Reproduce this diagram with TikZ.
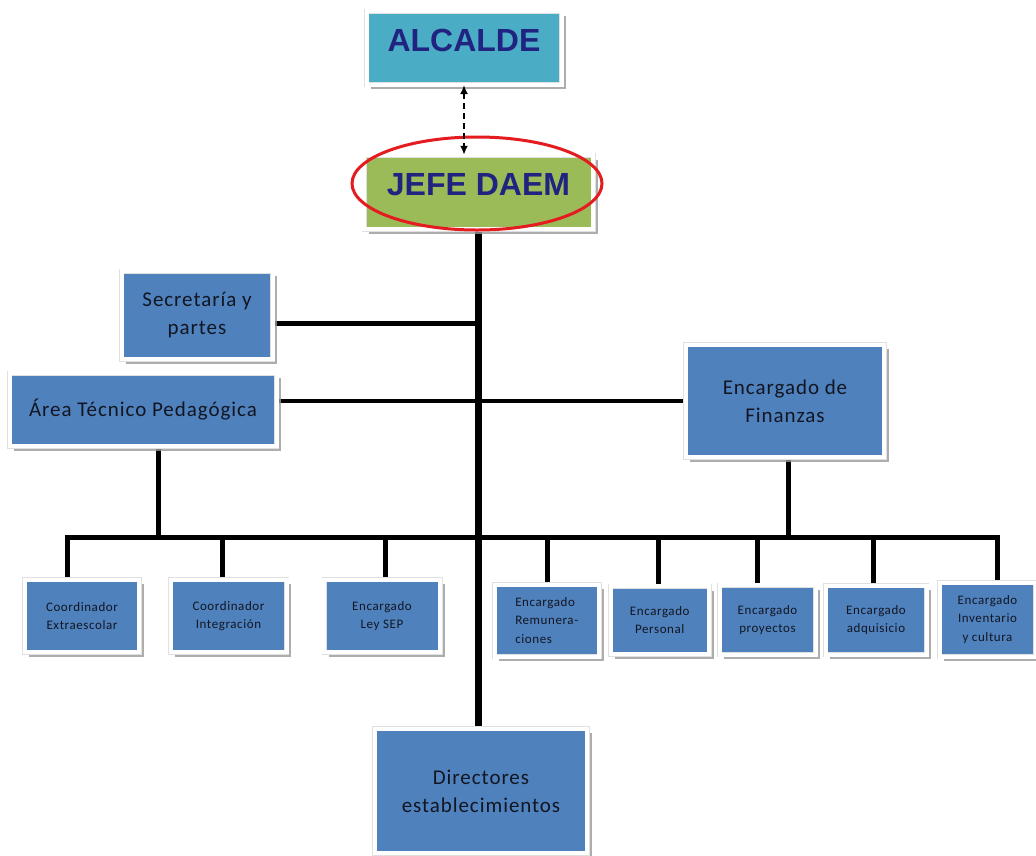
\documentclass[tikz,border=0pt]{standalone}
\usepackage{fontspec}
\setmainfont{Carlito}
\newfontfamily\boxfont[LetterSpace=4.5]{Carlito}
\newfontfamily\headfont{Liberation Sans}
\usepackage{tikz}
\usetikzlibrary{arrows.meta,backgrounds,calc,shadows,positioning}
\definecolor{unitblue}{RGB}{79,129,189}
\definecolor{mayorteal}{RGB}{75,172,198}
\definecolor{chiefgreen}{RGB}{155,187,89}
\definecolor{headnavy}{RGB}{32,36,128}
\definecolor{textdark}{RGB}{18,22,34}
\definecolor{ringred}{RGB}{228,28,32}

\begin{document}
\begin{tikzpicture}[x=1pt,y=-1pt,
  box/.style={rectangle, fill=unitblue, draw=black!12, double=white, double distance=4pt, line width=0.5pt, inner sep=0pt, align=center, text=textdark, drop shadow={shadow xshift=4.5pt, shadow yshift=-4.5pt, fill=black!40, opacity=.8}},
  bigbox/.style={box, font=\boxfont\fontsize{21}{28}\selectfont},
  smallbox/.style={box, font=\boxfont\fontsize{13}{18.5}\selectfont},
  headbox/.style={box, text=headnavy, text depth=15pt, font=\headfont\bfseries\fontsize{32}{38}\selectfont},
  link/.style={line width=5pt},
  trunk/.style={line width=7pt}]
\useasboundingbox (0,0) rectangle (1036,855);
\node[headbox, fill=mayorteal, minimum width=195pt, minimum height=73.5pt] (A) at (464,48) {ALCALDE};
\node[headbox, fill=chiefgreen, minimum width=229pt, minimum height=74pt] (J) at (478.5,192) {JEFE DAEM};
\node[bigbox, minimum width=151pt, minimum height=88pt] (S) at (197,315) {Secretaría y\\partes};
\node[bigbox, minimum width=267pt, minimum height=73pt] (T) at (143,409.5) {Área Técnico Pedagógica};
\node[bigbox, minimum width=198.5pt, minimum height=112.5pt] (F) at (785,401) {Encargado de\\Finanzas};
\node[bigbox, minimum width=212.5pt, minimum height=124.5pt] (D) at (481,791) {Directores\\establecimientos};
\node[smallbox, minimum width=114.5pt, minimum height=72.5pt] (C1) at (82,616) {Coordinador\\Extraescolar};
\node[smallbox, minimum width=116pt, minimum height=72.5pt] (C2) at (228.5,616) {Coordinador\\Integración};
\node[smallbox, minimum width=116pt, minimum height=72.5pt] (E1) at (382,616) {Encargado\\Ley SEP};
\node[smallbox, align=left, minimum width=104.5pt, minimum height=72pt] (E2) at (546.75,620.5) {Encargado\\Remunera-\\ciones};
\node[smallbox, minimum width=98.5pt, minimum height=68pt] (E3) at (659.75,620) {Encargado\\Personal};
\node[smallbox, minimum width=96pt, minimum height=69.5pt] (E4) at (767.5,620) {Encargado\\proyectos};
\node[smallbox, minimum width=101pt, minimum height=69pt] (E5) at (876,620) {Encargado\\adquisicio};
\node[smallbox, minimum width=96pt, minimum height=74pt] (E6) at (987.5,619.5) {Encargado\\Inventario\\y cultura};
\draw[ringred, line width=3pt] ($(J)+(-1.5,-8.5)$) ellipse [x radius=125pt, y radius=46.5pt];
\draw[dash pattern=on 6pt off 4pt, line width=1.8pt, {Latex[length=9pt,width=8pt]}-{Latex[length=9pt,width=8pt]}] (A.south) -- (A.south |- J.north);
\begin{scope}[on background layer]
\coordinate (H0) at (158,537);
\coordinate (H1) at (67,537);
\coordinate (H2) at (222,537);
\coordinate (H3) at (385,537);
\coordinate (H4) at (547,537);
\coordinate (H5) at (658,537);
\coordinate (H6) at (757,537);
\coordinate (H7) at (873,537);
\coordinate (H8) at (997,537);
\coordinate (H9) at (788,537);
\draw[trunk] (J.south) -- (J.south |- D.north);
\draw[link] ([yshift=-8pt]S.east) -- ([yshift=-8pt]S.east -| J.south);
\draw[line width=4.5pt] (T.east |- F.west) -- (F.west);
\draw[link] (H0 |- T.south) -- (H0);
\draw[link] (H9 |- F.south) -- (H9);
\draw[link] (H1 |- C1.north) -- (H1) -- (H8) -- (H8 |- E6.north);
\draw[link] (H2) -- (H2 |- C2.north);
\draw[link] (H3) -- (H3 |- E1.north);
\draw[link] (H4) -- (H4 |- E2.north);
\draw[link] (H5) -- (H5 |- E3.north);
\draw[link] (H6) -- (H6 |- E4.north);
\draw[link] (H7) -- (H7 |- E5.north);
\end{scope}
\end{tikzpicture}
\end{document}
